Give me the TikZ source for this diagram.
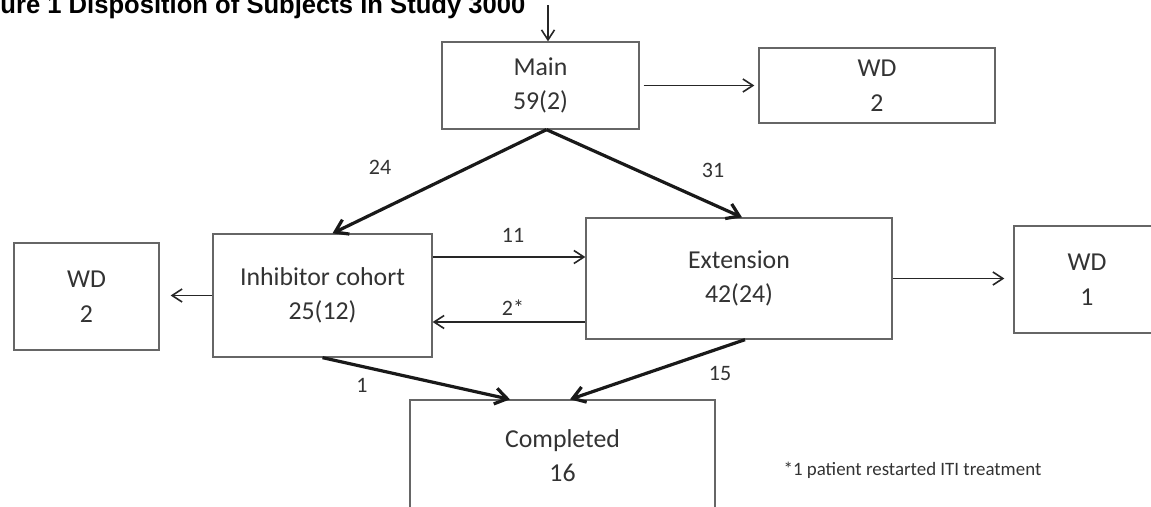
\documentclass[tikz,border=0pt]{standalone}
\usepackage{fontspec}
\setmainfont{Carlito}
\newfontfamily\titlefont{Liberation Sans}
\usetikzlibrary{arrows.meta}

\begin{document}
\begin{tikzpicture}[x=1pt,y=-1pt,line width=1.3pt,font=\fontsize{25.8}{34.5}\selectfont,
  box/.style={draw=black!60,line width=1.3pt,align=center,text=black!80,inner sep=0pt},
  flow/.style={-{Straight Barb[length=10pt,width=13pt]},line width=1.6pt,draw=black!85},
  bigflow/.style={-{Straight Barb[length=12pt,width=16pt]},line width=3.2pt,draw=black!90},
  num/.style={font=\fontsize{22}{26}\selectfont,text=black!80,inner sep=0pt}]
\useasboundingbox (0,0) rectangle (1151,506);
\fill[white] (0,0) rectangle (1151,506);
\node[anchor=base east,inner sep=0pt,font=\titlefont\bfseries\fontsize{25.6}{30}\selectfont] (title) at (526,13) {Figure 1 Disposition of Subjects in Study 3000};
\node[box,minimum width=197pt,minimum height=87pt] (main) at (540.5,85.5) {Main\\59(2)};
\node[box,minimum width=236pt,minimum height=75pt] (wdtop) at (877,85.5) {WD\\2};
\node[box,minimum width=219pt,minimum height=123pt] (inhib) at (322.5,295.5) {Inhibitor cohort\\25(12)};
\node[box,minimum width=145pt,minimum height=107pt] (wdleft) at (86.5,296.5) {WD\\2};
\node[box,minimum width=306pt,minimum height=121pt] (ext) at (739,278.5) {Extension\\42(24)};
\node[box,minimum width=146pt,minimum height=107pt] (wdright) at (1087,279.5) {WD\\1};
\node[box,minimum width=305pt,minimum height=111pt] (done) at (562.5,455.5) {Completed\\16};
\coordinate (entry) at (548,5);
\draw[flow] (entry) -- (entry |- main.north);
\draw[flow,shorten <=4pt,shorten >=4pt] (main) -- (wdtop);
\draw[bigflow] ([xshift=6pt]main.south) -- ([xshift=10pt]inhib.north);
\draw[bigflow] ([xshift=6pt]main.south) -- ([xshift=3pt]ext.north);
\draw[flow,shorten >=11pt] (inhib.west) -- (inhib.west -| wdleft.east);
\draw[flow] ([yshift=38.5pt]inhib.east) -- ([yshift=38.5pt]inhib.east -| ext.west);
\draw[flow] ([yshift=-26.5pt]inhib.east -| ext.west) -- ([yshift=-26.5pt]inhib.east);
\draw[flow,shorten >=9pt] (ext.east) -- (ext.east -| wdright.west);
\draw[bigflow] (inhib.south) -- ([xshift=-52.5pt]done.north);
\draw[bigflow] ([xshift=6pt]ext.south) -- ([xshift=7.5pt]done.north);
\node[num] (n24) at (380,167) {24};
\node[num] (n31) at (713,170) {31};
\node[num] (n11) at (513,235) {11};
\node[num] (n2) at (513,308) {2*};
\node[num] (n1) at (362,385) {1};
\node[num] (n15) at (720,373) {15};
\node[anchor=west,inner sep=0pt,font=\fontsize{18.9}{22}\selectfont,text=black!80] (note) at (783,470) {*1 patient restarted ITI treatment};
\end{tikzpicture}
\end{document}
